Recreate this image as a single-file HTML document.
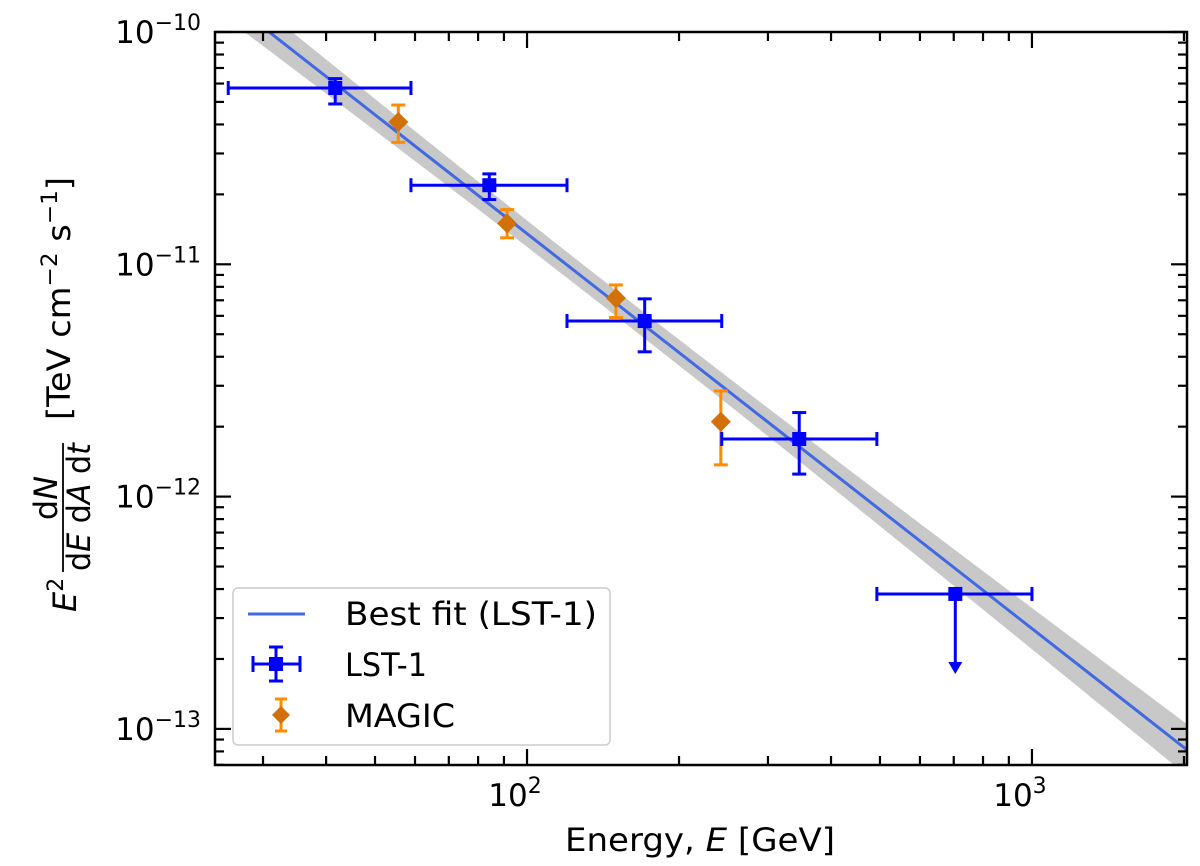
<!DOCTYPE html>
<html><head><meta charset="utf-8"><style>
body{margin:0;background:#fff;}
svg{display:block;font-family:"DejaVu Sans","Liberation Sans",sans-serif;}
</style></head><body>
<svg id="chart" width="1200" height="866" viewBox="0 0 1200 866" xmlns="http://www.w3.org/2000/svg">
<g id="band"></g>
<g id="fit"></g>
<g id="magic"></g>
<g id="lst"></g>
<g id="ticks"></g>
<rect x="215" y="32" width="972" height="733" fill="none" stroke="#000" stroke-width="2.5"/>
<g id="ticklabels" font-size="31"></g>
<text x="700" y="851" font-size="32" text-anchor="middle" textLength="270" lengthAdjust="spacingAndGlyphs">Energy, <tspan font-style="italic">E</tspan> [GeV]</text>
<g transform="rotate(-90)" font-size="32">
<text x="-612" y="76" font-style="italic">E<tspan dy="-13" font-size="22" font-style="normal">2</tspan></text>
<text x="-498" y="57" text-anchor="middle">d<tspan font-style="italic">N</tspan></text>
<line x1="-572" y1="63" x2="-443" y2="63" stroke="#000" stroke-width="1.8"/>
<text x="-507" y="90" text-anchor="middle" textLength="128" lengthAdjust="spacingAndGlyphs">d<tspan font-style="italic">E</tspan> d<tspan font-style="italic">A</tspan> d<tspan font-style="italic">t</tspan></text>
<text x="-420" y="70" textLength="243" lengthAdjust="spacingAndGlyphs">[TeV cm<tspan dy="-13" font-size="22">−2</tspan><tspan dy="13"> s</tspan><tspan dy="-13" font-size="22">−1</tspan><tspan dy="13">]</tspan></text>
</g>
<g>
<rect x="233" y="588" width="377" height="157" rx="5" fill="#fff" fill-opacity="0.85" stroke="#ccc" stroke-width="1.5"/>
<line x1="248" y1="614" x2="305" y2="614" stroke="#4169e1" stroke-width="3"/>
<text x="345" y="625" font-size="32" textLength="252" lengthAdjust="spacingAndGlyphs">Best fit (LST-1)</text>
<g stroke="#0000ff" stroke-width="3"><line x1="253" y1="664" x2="300" y2="664"/><line x1="253" y1="656" x2="253" y2="672"/><line x1="300" y1="656" x2="300" y2="672"/><line x1="276" y1="647" x2="276" y2="681"/><line x1="269" y1="647" x2="283" y2="647"/><line x1="269" y1="681" x2="283" y2="681"/></g>
<rect x="269" y="657" width="14" height="14" fill="#0000ff"/>
<text x="345" y="676" font-size="32" textLength="82" lengthAdjust="spacingAndGlyphs">LST-1</text>
<g stroke="#ff8c00" stroke-width="3"><line x1="281" y1="699" x2="281" y2="731"/><line x1="275" y1="699" x2="287" y2="699"/><line x1="275" y1="731" x2="287" y2="731"/></g>
<polygon points="281,706 290,715 281,724 272,715" fill="#d2710a"/>
<text x="345" y="727" font-size="32" textLength="110" lengthAdjust="spacingAndGlyphs">MAGIC</text>
</g>
</svg>
<script>
const lstE=[41.7,84.2,171,346,705];
const lstLo=[25.6,58.9,120,243,493];
const lstHi=[58.9,120,243,493,1000];
const lstF=[5.74e-11,2.19e-11,5.7e-12,1.77e-12,3.81e-13];
const lstFlo=[4.9e-11,1.9e-11,4.2e-12,1.25e-12,null];
const lstFhi=[6.3e-11,2.45e-11,7.1e-12,2.3e-12,null];
const lstUL=[false,false,false,false,true];
const magE=[55.6,91.3,150,242];
const magF=[4.1e-11,1.5e-11,7.15e-12,2.1e-12];
const magFlo=[3.35e-11,1.3e-11,5.9e-12,1.37e-12];
const magFhi=[4.85e-11,1.72e-11,8.15e-12,2.85e-12];
const fitNorm=[6.8e-12];
const fitPivot=[150];
const fitIndex=[1.70];
const xTickLabels=["10","10"],xTickExp=["2","3"],xTickVals=[100,1000];
const yTickVals=[1e-10,1e-11,1e-12,1e-13],yTickExp=["−10","−11","−12","−13"];

const NS="http://www.w3.org/2000/svg";
const X0=215,X1=1187,Y0=32,Y1=765;
const lx0=Math.log10(24.1),lx1=Math.log10(2028);
const ly1=-10,ly0=-13-(733/232.3-3);
const xs=e=>X0+(Math.log10(e)-lx0)/(lx1-lx0)*(X1-X0);
const ys=f=>Y0+(ly1-Math.log10(f))/(ly1-ly0)*(Y1-Y0);
function mk(tag,attrs,parent){const el=document.createElementNS(NS,tag);for(const k in attrs)el.setAttribute(k,attrs[k]);parent.appendChild(el);return el;}
const fitF=e=>fitNorm[0]*Math.pow(e/fitPivot[0],-fitIndex[0]);
const bandW=e=>{const d=Math.log10(e)-Math.log10(fitPivot[0]);return Math.sqrt(0.055*0.055+0.085*0.085*d*d);};

const bandG=document.getElementById('band');
let up=[],dn=[];
for(let i=0;i<=60;i++){const e=Math.pow(10,lx0+(lx1-lx0)*i/60);const f=fitF(e),w=bandW(e);
up.push(xs(e)+','+ys(f*Math.pow(10,w)));dn.unshift(xs(e)+','+ys(f/Math.pow(10,w)));}
const bp=mk('polygon',{points:up.concat(dn).join(' '),fill:'#c8c8c8'},bandG);


const fitG=document.getElementById('fit');
const fl=mk('line',{x1:xs(Math.pow(10,lx0)),y1:ys(fitF(Math.pow(10,lx0))),x2:xs(Math.pow(10,lx1)),y2:ys(fitF(Math.pow(10,lx1))),stroke:'#4169e1','stroke-width':3},fitG);


const cp=mk('clipPath',{id:'clip'},document.getElementById('chart'));
mk('rect',{x:X0,y:Y0,width:X1-X0,height:Y1-Y0},cp);
bandG.setAttribute('clip-path','url(#clip)');fitG.setAttribute('clip-path','url(#clip)');

const mg=document.getElementById('magic');
magE.forEach((e,i)=>{const g=mk('g',{stroke:'#ff8c00','stroke-width':3},mg);


const x=xs(e);mk('line',{x1:x,x2:x,y1:ys(magFhi[i]),y2:ys(magFlo[i])},g);
mk('line',{x1:x-7,x2:x+7,y1:ys(magFhi[i]),y2:ys(magFhi[i])},g);
mk('line',{x1:x-7,x2:x+7,y1:ys(magFlo[i]),y2:ys(magFlo[i])},g);
const y=ys(magF[i]);mk('polygon',{points:`${x},${y-10} ${x+10},${y} ${x},${y+10} ${x-10},${y}`,fill:'#d2710a',stroke:'none'},g);});

const lg=document.getElementById('lst');
lstE.forEach((e,i)=>{const g=mk('g',{stroke:'#0000ff','stroke-width':3},lg);


const x=xs(e),y=ys(lstF[i]),xl=xs(lstLo[i]),xh=xs(lstHi[i]);
mk('line',{x1:xl,x2:xh,y1:y,y2:y},g);
mk('line',{x1:xl,x2:xl,y1:y-7,y2:y+7},g);mk('line',{x1:xh,x2:xh,y1:y-7,y2:y+7},g);
if(lstUL[i]){const ya=y+78;mk('line',{x1:x,x2:x,y1:y,y2:ya-8},g);mk('polygon',{points:`${x-7},${ya-10} ${x+7},${ya-10} ${x},${ya+2}`,fill:'#0000ff',stroke:'none'},g);}
else{const a=ys(lstFhi[i]),b=ys(lstFlo[i]);mk('line',{x1:x,x2:x,y1:a,y2:b},g);mk('line',{x1:x-7,x2:x+7,y1:a,y2:a},g);mk('line',{x1:x-7,x2:x+7,y1:b,y2:b},g);}
mk('rect',{x:x-7,y:y-7,width:14,height:14,fill:'#0000ff',stroke:'none'},g);});

const tg=document.getElementById('ticks');
const tk=(a)=>mk('line',Object.assign({stroke:'#000','stroke-width':2.2},a),tg);
for(let d=1;d<=3;d++)for(let m=1;m<=9;m++){const e=m*Math.pow(10,d);const x=xs(e);if(x<X0||x>X1)continue;const L=m===1?16:9;tk({x1:x,x2:x,y1:Y1,y2:Y1-L});tk({x1:x,x2:x,y1:Y0,y2:Y0+L});}
for(let d=-14;d<=-10;d++)for(let m=1;m<=9;m++){const f=m*Math.pow(10,d);const y=ys(f);if(y<Y0-0.5||y>Y1)continue;const L=m===1?16:9;tk({x1:X0,x2:X0+L,y1:y,y2:y});tk({x1:X1,x2:X1-L,y1:y,y2:y});}
const tl=document.getElementById('ticklabels');
xTickVals.forEach((v,i)=>{const t=mk('text',{x:xs(v)-12,y:806,'text-anchor':'middle'},tl);


t.textContent=xTickLabels[i];const s=mk('tspan',{dy:-13,'font-size':22},t);s.textContent=xTickExp[i];});
yTickVals.forEach((v,i)=>{const t=mk('text',{x:201,y:ys(v)+11,'text-anchor':'end'},tl);


t.textContent='10';const s=mk('tspan',{dy:-13,'font-size':22},t);s.textContent=yTickExp[i];});
</script>
</body></html>
